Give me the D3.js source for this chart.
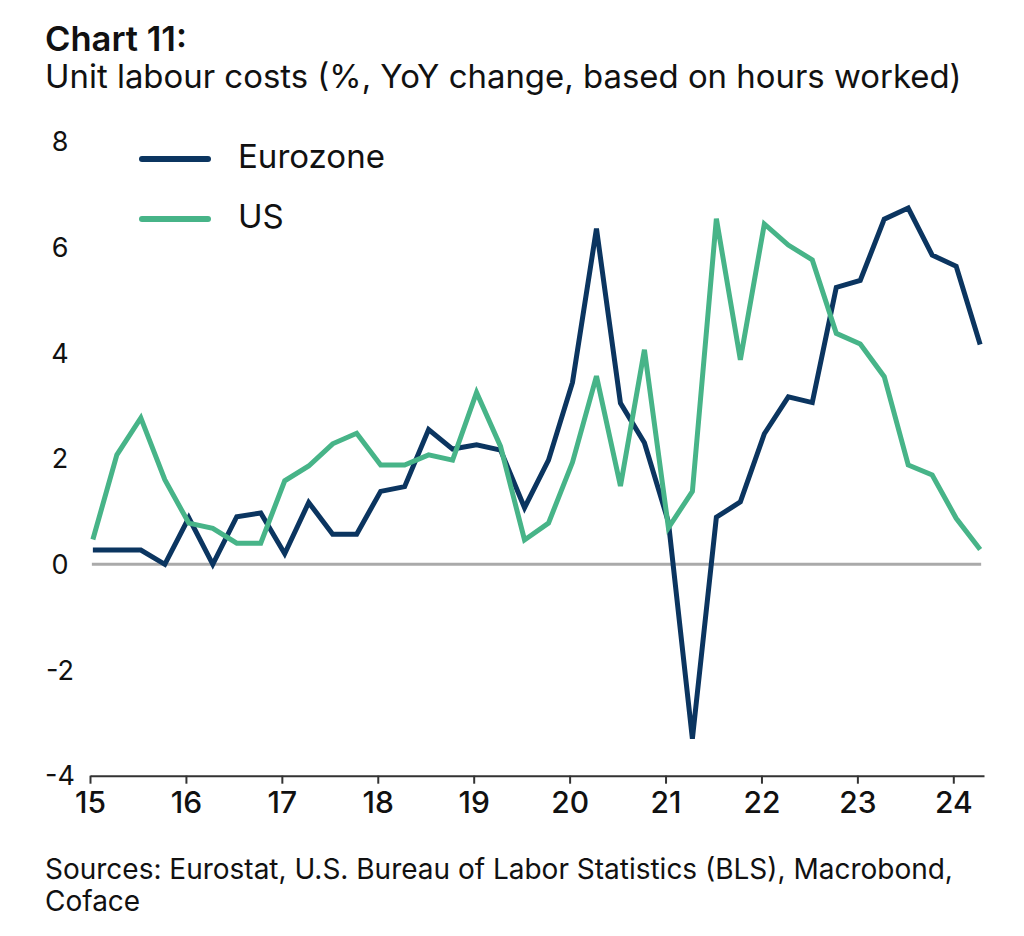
<!DOCTYPE html>
<html>
<head>
<meta charset="utf-8">
<script src="https://cdn.jsdelivr.net/npm/d3@7"></script>
<style>
  html, body { margin: 0; padding: 0; background: #fff; }
  svg { display: block; }
  text { font-family: Inter, "Open Sans", sans-serif; fill: #111; }
</style>
</head>
<body>
<svg id="chart" width="1024" height="936"></svg>
<script>
// ---- data ----
const periods = [
  "2015Q1","2015Q2","2015Q3","2015Q4","2016Q1","2016Q2","2016Q3","2016Q4",
  "2017Q1","2017Q2","2017Q3","2017Q4","2018Q1","2018Q2","2018Q3","2018Q4",
  "2019Q1","2019Q2","2019Q3","2019Q4","2020Q1","2020Q2","2020Q3","2020Q4",
  "2021Q1","2021Q2","2021Q3","2021Q4","2022Q1","2022Q2","2022Q3","2022Q4",
  "2023Q1","2023Q2","2023Q3","2023Q4","2024Q1","2024Q2"
];
const eurozone = [0.27,0.27,0.27,0.0,0.88,0.0,0.9,0.97,0.2,1.17,0.57,0.57,
  1.38,1.47,2.55,2.18,2.26,2.16,1.07,1.97,3.44,6.35,3.05,2.3,0.8,-3.3,
  0.89,1.18,2.47,3.17,3.06,5.24,5.37,6.53,6.74,5.85,5.64,4.16];
const us = [0.47,2.07,2.77,1.6,0.78,0.68,0.4,0.4,1.58,1.86,2.28,2.48,
  1.88,1.88,2.07,1.97,3.25,2.23,0.46,0.78,1.93,3.56,1.48,4.06,0.69,1.38,
  6.54,3.87,6.44,6.04,5.76,4.37,4.17,3.55,1.88,1.69,0.87,0.28];
const xTickYears = [2015,2016,2017,2018,2019,2020,2021,2022,2023,2024];
const xTickLabels = ["15","16","17","18","19","20","21","22","23","24"];
const yTicks = [8,6,4,2,0,-2,-4];
const seriesNames = ["Eurozone","US"];
const titleLines = ["Chart 11:", "Unit labour costs (%, YoY change, based on hours worked)"];
const sourceLines = ["Sources: Eurostat, U.S. Bureau of Labor Statistics (BLS), Macrobond,", "Coface"];

// ---- layout ----
const colors = { Eurozone: "#0b3560", US: "#47b488" };
const svg = d3.select("#chart");

const periodValue = p => +p.slice(0,4) + (+p.slice(5) - 1) / 4 + 0.03;
const x = d3.scaleLinear().domain([2015, 2024]).range([90, 953.3]);
const y = d3.scaleLinear().domain([-4, 8]).range([775.7, 141.5]);

function fitText(sel, targetW) {
  const node = sel.node();
  const base = parseFloat(sel.attr("font-size"));
  const w = node.getComputedTextLength();
  sel.attr("font-size", (base * targetW / w).toFixed(2));
}

// title
fitText(svg.append("text").attr("x", 45).attr("y", 51).attr("font-size", 28)
  .attr("font-weight", 600).text(titleLines[0]), 142);
fitText(svg.append("text").attr("x", 45).attr("y", 88).attr("font-size", 28)
  .text(titleLines[1]), 917);

// zero line
svg.append("line")
  .attr("x1", x(periodValue(periods[0])) - 1).attr("x2", x(periodValue(periods[periods.length-1])) + 1)
  .attr("y1", y(0)).attr("y2", y(0))
  .attr("stroke", "#aaaaaa").attr("stroke-width", 3);

// y labels
svg.append("g").selectAll("text").data(yTicks).join("text")
  .attr("x", 60).attr("y", d => y(d)).attr("dy", "0.36em")
  .attr("text-anchor", "middle").attr("font-size", 27)
  .text(d => d);

// x axis
const xAxis = d3.axisBottom(x.copy().domain([2015, 2024.32]).range([90, 984]))
  .tickValues(xTickYears).tickFormat((d,i) => xTickLabels[i])
  .tickSizeInner(8).tickSizeOuter(0).tickPadding(8);
const gx = svg.append("g").attr("transform", `translate(0,${y(-4)})`).call(xAxis);
gx.select(".domain").attr("stroke", "#333").attr("stroke-width", 2);
gx.selectAll(".tick line").attr("stroke", "#333").attr("stroke-width", 2);
gx.selectAll(".tick text").attr("font-size", 30).attr("font-weight", 500)
  .attr("font-family", 'Inter, "Open Sans", sans-serif').attr("fill", "#111")
  .attr("dy", "0.72em");

// lines
const line = d3.line().x((d,i) => x(periodValue(periods[i]))).y(d => y(d));
[["Eurozone", eurozone], ["US", us]].forEach(([name, vals]) => {
  svg.append("path").datum(vals).attr("d", line)
    .attr("fill", "none").attr("stroke", colors[name])
    .attr("stroke-width", 5).attr("stroke-linejoin", "miter");
});

// legend
seriesNames.forEach((name, i) => {
  const ly = 159 + i * 60;
  svg.append("line").attr("x1", 142).attr("x2", 208).attr("y1", ly).attr("y2", ly)
    .attr("stroke", colors[name]).attr("stroke-width", 6).attr("stroke-linecap", "round");
  const t = svg.append("text").attr("x", 238).attr("y", ly + 8.5).attr("font-size", 28).text(name);
  if (i === 0) fitText(t, 147);
  else t.attr("font-size", svg.selectAll("text").filter(function(){return this.textContent==="Eurozone";}).attr("font-size"));
});

// sources
const s1 = svg.append("text").attr("x", 45).attr("y", 879).attr("font-size", 26).text(sourceLines[0]);
fitText(s1, 908);
svg.append("text").attr("x", 45).attr("y", 911).attr("font-size", s1.attr("font-size")).text(sourceLines[1]);
</script>
</body>
</html>
